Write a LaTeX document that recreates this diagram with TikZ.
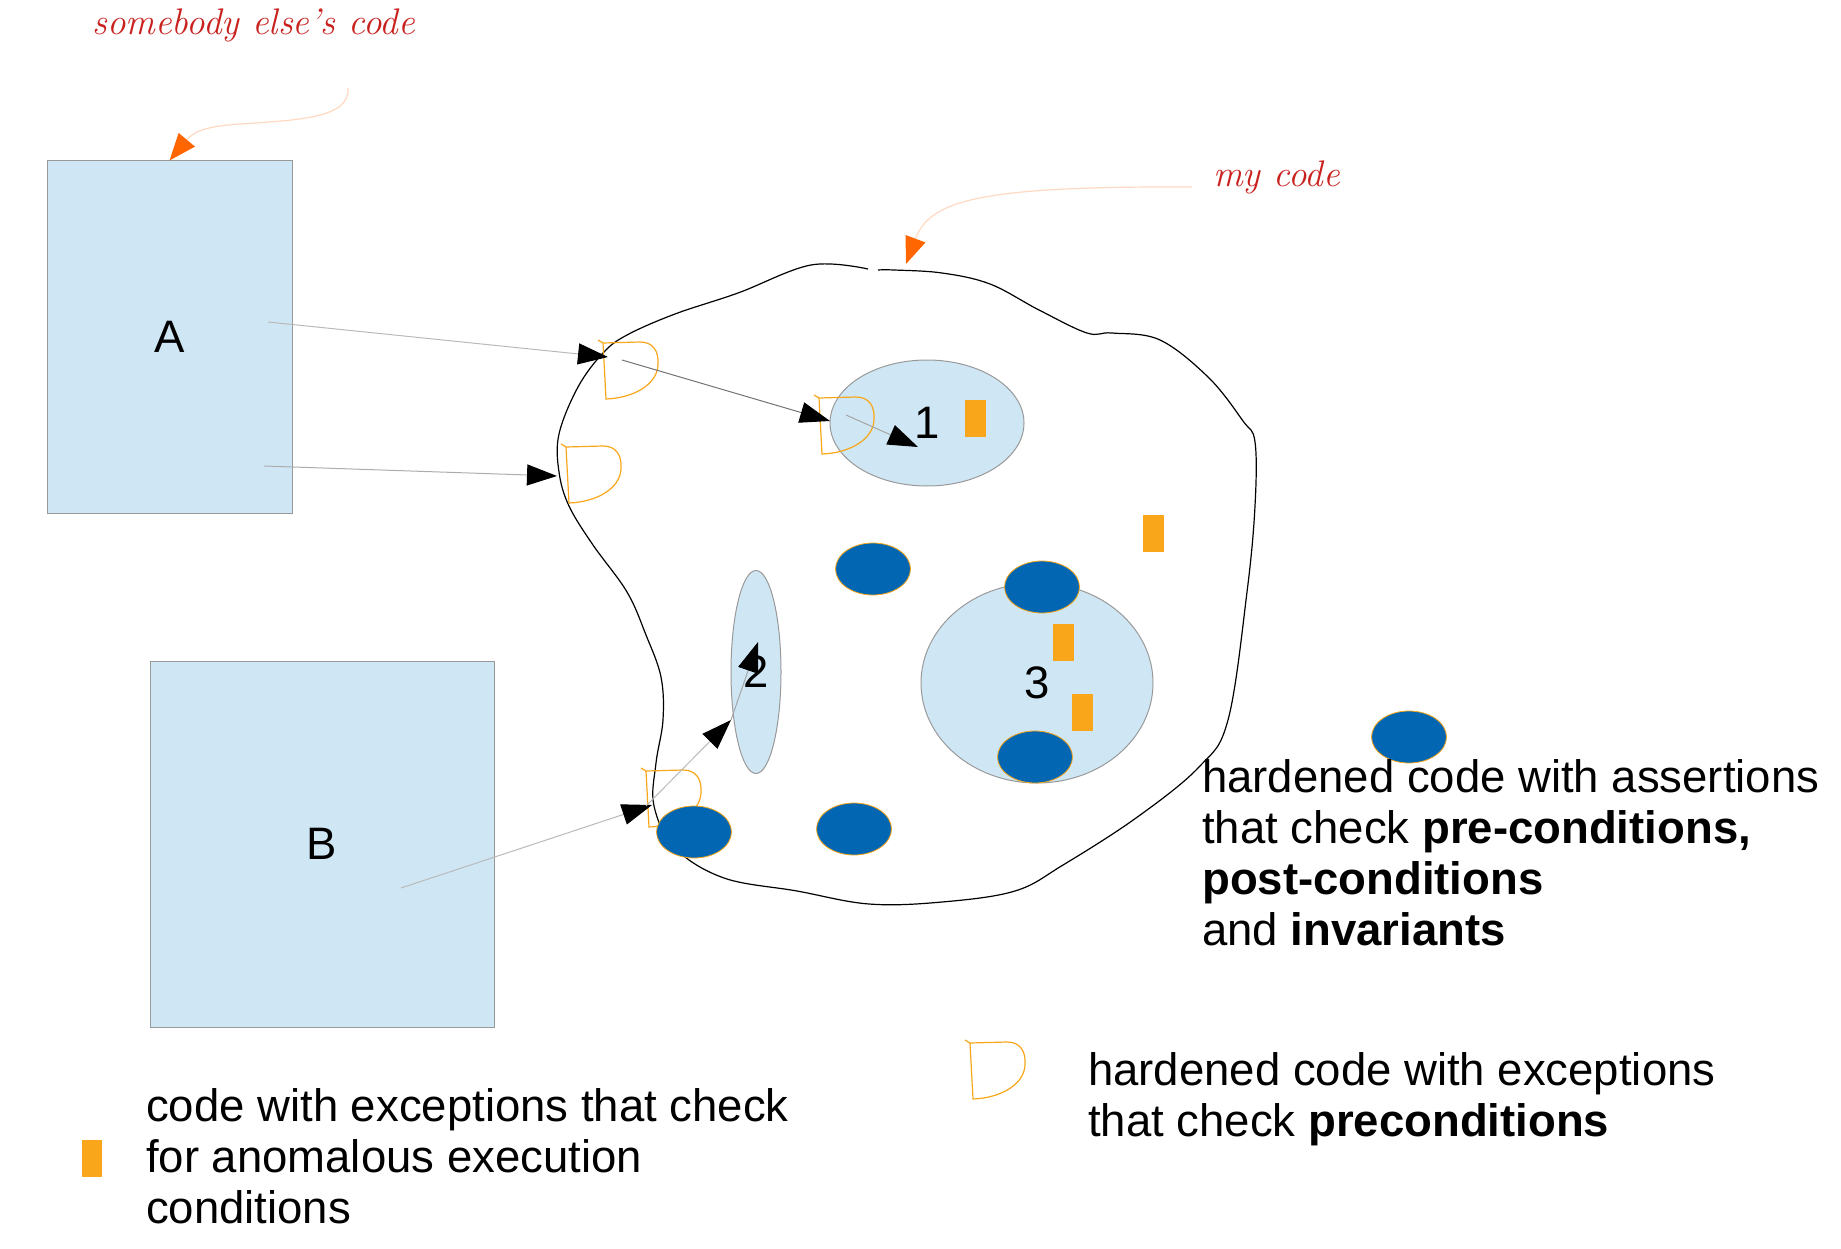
\documentclass[tikz,border=0pt]{standalone}
\usepackage{fontspec}
\setsansfont{Liberation Sans}
\usepackage{tikz}
\usetikzlibrary{arrows.meta, shapes.geometric, positioning}
\definecolor{paleblue}{HTML}{CFE7F5}
\definecolor{darkblue}{HTML}{0366B2}
\definecolor{amber}{HTML}{F9A61A}
\definecolor{notered}{HTML}{C9211E}
\definecolor{calloutorange}{HTML}{FF6600}
\definecolor{peach}{HTML}{FFD9C2}

\tikzset{
  dgate/.pic={
    \draw[amber, line width=1.2pt] (-5,-3) -- (0,0) -- (37,-1)
      .. controls (50,-1) and (56,8) .. (55,22)
      .. controls (54,42) and (30,55) .. (3,56) -- (0,0);
  }
}

\begin{document}
\begin{tikzpicture}[
    x=1pt, y=-1pt,
    font=\sffamily\fontsize{45.5}{51}\selectfont,
    box/.style={draw=gray!80, fill=paleblue, line width=1pt, inner sep=0pt},
    part/.style={ellipse, draw=gray!80, fill=paleblue, line width=1pt, inner sep=0pt},
    hard/.style={ellipse, draw=amber, fill=darkblue, line width=0.8pt, minimum width=75pt, minimum height=52pt, inner sep=0pt},
    check/.style={rectangle, fill=amber, minimum width=21pt, minimum height=37pt, inner sep=0pt},
    note/.style={font=\rmfamily\itshape\fontsize{37}{42}\selectfont, text=notered, inner sep=0pt, anchor=base west},
    link/.style={line width=1pt, -{Triangle[length=30pt, width=21pt, color=black]}},
    callout/.style={peach, line width=1.2pt, -{Triangle[length=27pt, width=21pt, color=calloutorange]}},
    legend/.style={align=left, anchor=base west, inner sep=0pt}
]
\useasboundingbox (0,0) rectangle (1841,1249);

% Outside code
\node[box, minimum width=245pt, minimum height=352pt] (A) at (169.5,337) {A};
\node[box, minimum width=344pt, minimum height=366pt] (B) at (322,844) {B};

% My code outline
\draw[line width=1.2pt] plot[smooth, tension=0.6] coordinates {
  (878,270) (894,270) (942,273) (990,284) (1039,310) (1087,333) (1112,333)
  (1160,340) (1209,378) (1243,421) (1255,442) (1255,506) (1247,592)
  (1228,720) (1199,767) (1136,818) (1063,865) (1015,891) (942,902)
  (869,904) (797,891) (724,878) (675,848) (654,806) (656,763) (663,720)
  (661,677) (646,635) (627,592) (593,545) (569,506) (559,472) (559,434)
  (578,387) (603,353) (627,335) (675,314) (738,293) (811,265) (868,269)};

% Components
\node[part, minimum width=194pt, minimum height=126pt] (e1) at (927,423) {1};
\node[part, minimum width=50pt, minimum height=203pt] (e2) at (756,672) {2};
\node[part, minimum width=232pt, minimum height=200pt] (e3) at (1037,683) {3};

% Precondition gates
\pic (d1) at (603,343) {dgate};
\pic (d2) at (566,447) {dgate};
\pic (d3) at (819,398) {dgate};
\pic (d4) at (646,771) {dgate};

% Assertions
\node[hard] (h1) at (873,569) {};
\node[hard] (h2) at (1042,587) {};
\node[hard] (h3) at (1035,757) {};
\node[hard] (h4) at (694,832) {};
\node[hard] (h5) at (854,829) {};
\node[hard] (h6) at (1409,737) {};

% Exception checks
\node[check] (r1) at (975,418.5) {};
\node[check] (r2) at (1153.5,533.5) {};
\node[check] (r3) at (1063.5,642.5) {};
\node[check] (r4) at (1082,712.5) {};

% Calls
\coordinate (A-src1) at (268,322);
\coordinate (A-src2) at (264,466);
\coordinate (B-src) at (401,888);
\coordinate (d1-tip) at (608,357);
\coordinate (d2-tip) at (557,476);
\coordinate (d1-src) at (622,360);
\coordinate (d3-tip) at (830,421);
\coordinate (d3-src) at (846,415);
\coordinate (e1-tip) at (918,447);
\coordinate (d4-tip) at (652,805);
\coordinate (d4-src) at (646,806);
\coordinate (e2-gate) at (731,720);
\coordinate (e2-tip) at (758,642);

\draw[link, gray!55] (A-src1) -- (d1-tip);
\draw[link, gray!65] (A-src2) -- (d2-tip);
\draw[link, black!55] (d1-src) -- (d3-tip);
\draw[link, gray!70] (d3-src) -- (e1-tip);
\draw[link, gray!55] (B-src) -- (d4-tip);
\draw[link, gray!55] (d4-src) -- (e2-gate);
\draw[link, gray!70] (e2-gate) -- (e2-tip);

% Notes
\node[note] (other) at (92,35) {somebody else's code};
\node[note] (mine) at (1213,187) {my code};
\coordinate (other-from) at (348,88);
\coordinate (mine-from) at (1192,187);
\coordinate (mine-to) at (906,264);
\draw[callout] (other-from) .. controls (350,118) and (300,120) .. (240,124)
  .. controls (210,126) and (195,130) .. (A.north);
\draw[callout] (mine-from) .. controls (980,186) and (930,200) .. (mine-to);

% Legend
\node[legend] (key3) at (1202,945) {hardened code with assertions\\
  that check \textbf{pre-conditions,}\\ \textbf{post-conditions}\\
  and \textbf{invariants}};
\pic (dkey) at (970,1043) {dgate};
\node[legend] (key2) at (1088,1136) {hardened code with exceptions\\
  that check \textbf{preconditions}};
\node[check, minimum width=20pt] (rkey) at (91.5,1158.5) {};
\node[legend] (key1) at (146,1223) {code with exceptions that check\\
  for anomalous execution\\ conditions};

\end{tikzpicture}
\end{document}
